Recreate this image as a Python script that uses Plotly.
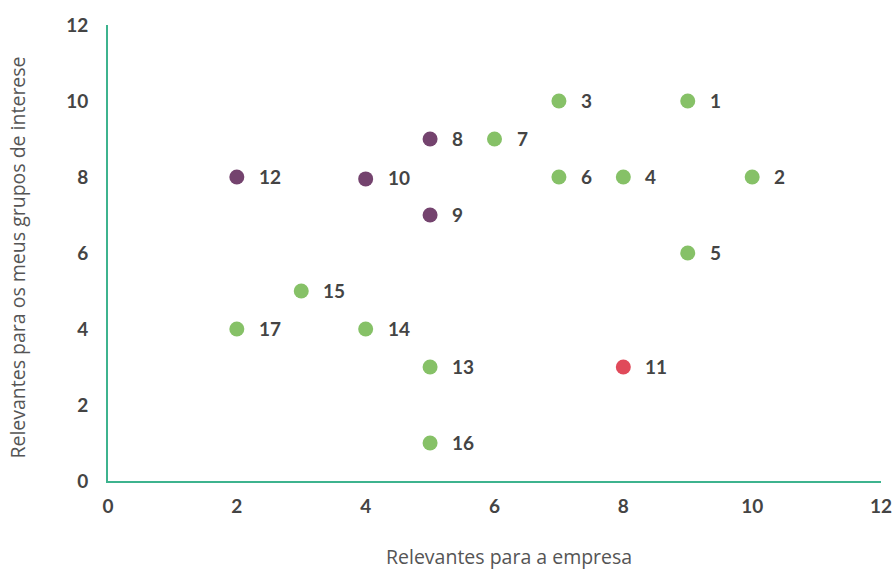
import plotly.graph_objects as go

labels = ["1", "2", "3", "4", "5", "6", "7", "8", "9", "10", "11", "12", "13", "14", "15", "16", "17"]
x_vals = [9, 10, 7, 8, 9, 7, 6, 5, 5, 4, 8, 2, 5, 4, 3, 5, 2]
y_vals = [10, 8, 10, 8, 6, 8, 9, 9, 7, 7.95, 3, 8, 3, 4, 5, 1, 4]
groups = ["g", "g", "g", "g", "g", "g", "g", "p", "p", "p", "r", "p", "g", "g", "g", "g", "g"]
colors = {"g": "#86C167", "p": "#74436E", "r": "#E04A5A"}
x_ticks = [0, 2, 4, 6, 8, 10, 12]
y_ticks = [0, 2, 4, 6, 8, 10, 12]
x_title = "Relevantes para a empresa"
y_title = "Relevantes para os meus grupos de interese"

fig = go.Figure()
fig.add_trace(go.Scatter(
    x=x_vals, y=y_vals, mode="markers",
    marker=dict(size=15, color=[colors[g] for g in groups], line=dict(width=0)),
    hoverinfo="skip", showlegend=False,
))
for lab, xv, yv in zip(labels, x_vals, y_vals):
    fig.add_annotation(x=xv, y=yv, text=lab, showarrow=False, xanchor="left",
                       xshift=20, yshift=1,
                       font=dict(family="Lato", size=19, color="#444444", weight="bold"))

title_font = dict(family="Open Sans", size=19.5, color="#555555")
fig.add_annotation(xref="paper", yref="paper", x=0.519, y=0, yshift=-75,
                   text=x_title, showarrow=False, xanchor="center", yanchor="middle",
                   font=title_font)
fig.add_annotation(xref="paper", yref="paper", x=0, xshift=-90, y=0.49,
                   text=y_title, showarrow=False, textangle=-90,
                   xanchor="center", yanchor="middle", font=title_font)

axis_common = dict(showgrid=False, zeroline=False, showline=True, linecolor="#3DB38E",
                   linewidth=2, ticks="", automargin=False,
                   tickfont=dict(family="Lato", size=19, color="#444444", weight="bold"))
fig.update_layout(
    width=893, height=572,
    margin=dict(l=108, r=12, t=25, b=91),
    paper_bgcolor="white", plot_bgcolor="white",
    xaxis=dict(range=[0, 12], tickvals=x_ticks, ticktext=[str(v) for v in x_ticks],
               ticklabelstandoff=7, **axis_common),
    yaxis=dict(range=[0, 12], tickvals=y_ticks, ticktext=[str(v) for v in y_ticks],
               ticklabelstandoff=14, **axis_common),
)
fig.write_html("out.html", config={"displayModeBar": False},
               post_script="document.body.style.margin='0';")
